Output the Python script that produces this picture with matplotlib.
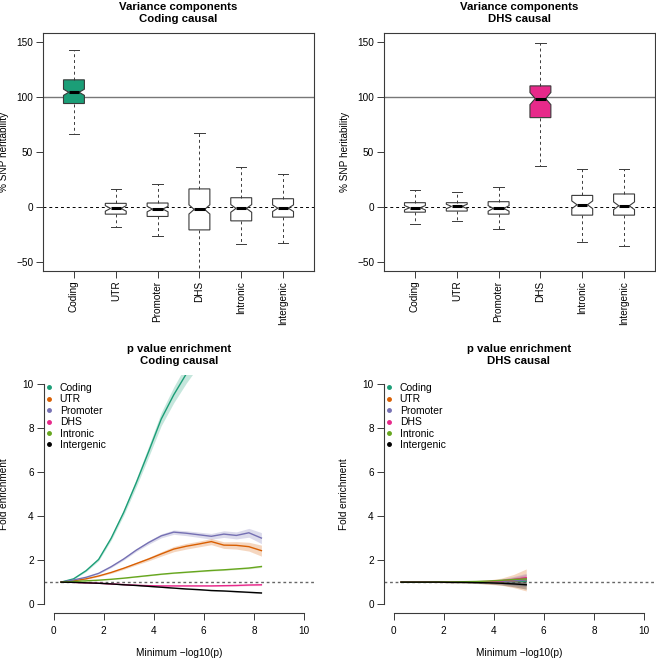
import matplotlib
matplotlib.use("Agg")
import matplotlib.pyplot as plt
from matplotlib.lines import Line2D

plt.rcParams["font.family"] = ["Liberation Sans", "DejaVu Sans"]

categories = ["Coding", "UTR", "Promoter", "DHS", "Intronic", "Intergenic"]
colors = ["#1B9E77", "#D95F02", "#7570B3", "#E7298A", "#66A61E", "#000000"]

# box stats: whisker low, q1, median, q3, whisker high, notch half-width
coding_causal_whislo = [66, -17.7, -26, -70, -33.8, -32.3]
coding_causal_q1 = [94, -6.4, -8.5, -20.7, -12.5, -9.1]
coding_causal_med = [104.2, -1.2, -1.8, -2.1, -1.2, -1.0]
coding_causal_q3 = [115.5, 3.4, 3.7, 16.5, 8.5, 7.6]
coding_causal_whishi = [143, 16.5, 21.3, 66.8, 36.3, 30.2]
coding_causal_notch = [2.8, 2.5, 2.5, 4.2, 3.5, 3.0]

dhs_causal_whislo = [-15.5, -12.5, -20, 37.7, -31.6, -35.3]
dhs_causal_q1 = [-4.6, -3.6, -6.4, 81.2, -7.3, -7.3]
dhs_causal_med = [-0.6, 0.6, -1.2, 98.5, 2.1, 1.2]
dhs_causal_q3 = [4.0, 4.0, 4.9, 110, 10.6, 11.9]
dhs_causal_whishi = [15.2, 13.4, 18.2, 148.6, 34.7, 34.7]
dhs_causal_notch = [2.0, 2.0, 2.5, 5.5, 3.5, 3.5]

# p value enrichment curves (mean, band half-width)
x_coding_causal = [0.3, 0.8, 1.3, 1.8, 2.3, 2.8, 3.3, 3.8, 4.3, 4.8, 5.3,
                   5.8, 6.3, 6.8, 7.3, 7.8, 8.3]
cc_mean = {
    "Coding": [1.0, 1.15, 1.52, 2.03, 2.99, 4.16, 5.5, 6.93, 8.4, 9.5, 10.45,
               11.3, 12.0, 12.6, 13.1, 13.5, 13.8],
    "UTR": [1.0, 1.06, 1.15, 1.28, 1.44, 1.63, 1.84, 2.05, 2.28, 2.5, 2.63,
            2.73, 2.84, 2.68, 2.67, 2.61, 2.43],
    "Promoter": [1.0, 1.1, 1.22, 1.4, 1.7, 2.05, 2.45, 2.8, 3.1, 3.27, 3.22,
                 3.15, 3.08, 3.18, 3.12, 3.24, 3.0],
    "DHS": [1.0, 0.99, 0.97, 0.95, 0.92, 0.89, 0.86, 0.84, 0.83, 0.83, 0.83,
            0.83, 0.83, 0.84, 0.85, 0.87, 0.88],
    "Intronic": [1.0, 1.03, 1.06, 1.09, 1.13, 1.18, 1.24, 1.3, 1.36, 1.41, 1.45,
                 1.49, 1.53, 1.56, 1.6, 1.64, 1.71],
    "Intergenic": [1.0, 0.99, 0.97, 0.95, 0.92, 0.88, 0.85, 0.81, 0.77, 0.73, 0.69,
                   0.66, 0.62, 0.6, 0.57, 0.54, 0.51],
}
cc_band = {
    "Coding": [0.0, 0.02, 0.04, 0.06, 0.09, 0.13, 0.18, 0.24, 0.3, 0.36, 0.42,
               0.48, 0.54, 0.6, 0.65, 0.7, 0.75],
    "UTR": [0.0, 0.01, 0.02, 0.03, 0.04, 0.05, 0.06, 0.08, 0.1, 0.12, 0.13,
            0.13, 0.14, 0.15, 0.17, 0.2, 0.25],
    "Promoter": [0.0, 0.01, 0.02, 0.03, 0.04, 0.05, 0.06, 0.08, 0.09, 0.1, 0.11,
                 0.12, 0.13, 0.15, 0.16, 0.2, 0.25],
    "DHS": [0.0, 0.005, 0.01, 0.01, 0.01, 0.01, 0.015, 0.015, 0.02, 0.02, 0.02,
            0.02, 0.025, 0.025, 0.03, 0.03, 0.035],
    "Intronic": [0.0, 0.005, 0.01, 0.01, 0.01, 0.015, 0.015, 0.02, 0.02, 0.02, 0.025,
                 0.025, 0.03, 0.03, 0.03, 0.035, 0.04],
    "Intergenic": [0.0, 0.005, 0.01, 0.01, 0.01, 0.01, 0.01, 0.015, 0.015, 0.015, 0.02,
                   0.02, 0.02, 0.02, 0.025, 0.025, 0.03],
}

x_dhs_causal = [0.3, 0.8, 1.3, 1.8, 2.3, 2.8, 3.3, 3.8, 4.3, 4.8, 5.3]
dc_mean = {
    "Coding": [1.0, 1.0, 1.0, 1.0, 1.0, 1.0, 1.0, 1.01, 1.02, 1.03, 1.05],
    "UTR": [1.0, 1.0, 1.0, 1.0, 1.0, 1.0, 1.0, 1.0, 1.02, 1.05, 1.1],
    "Promoter": [1.0, 1.0, 1.0, 1.0, 1.0, 1.0, 1.0, 1.01, 1.03, 1.06, 1.1],
    "DHS": [1.0, 1.0, 1.0, 1.0, 1.0, 1.01, 1.02, 1.03, 1.06, 1.12, 1.2],
    "Intronic": [1.0, 1.0, 1.0, 1.01, 1.01, 1.02, 1.03, 1.05, 1.08, 1.12, 1.15],
    "Intergenic": [1.0, 1.0, 1.0, 1.0, 0.99, 0.99, 0.98, 0.97, 0.95, 0.92, 0.88],
}
dc_band = {
    "Coding": [0.0, 0.005, 0.01, 0.01, 0.02, 0.03, 0.04, 0.06, 0.09, 0.14, 0.2],
    "UTR": [0.0, 0.01, 0.01, 0.02, 0.03, 0.04, 0.06, 0.1, 0.16, 0.3, 0.5],
    "Promoter": [0.0, 0.005, 0.01, 0.02, 0.02, 0.03, 0.05, 0.07, 0.11, 0.2, 0.3],
    "DHS": [0.0, 0.005, 0.01, 0.01, 0.02, 0.02, 0.03, 0.05, 0.07, 0.1, 0.15],
    "Intronic": [0.0, 0.005, 0.005, 0.01, 0.01, 0.02, 0.02, 0.03, 0.05, 0.07, 0.1],
    "Intergenic": [0.0, 0.005, 0.01, 0.01, 0.02, 0.02, 0.03, 0.05, 0.08, 0.13, 0.2],
}

FRAME = "#3a3a3a"
FS = 7.2
TITLE_FS = 8.2


def style_ticks(ax):
    ax.tick_params(direction="out", length=5, width=0.7, color=FRAME,
                   labelsize=FS, pad=2)


def box_panel(ax, title, whislo, q1, med, q3, whishi, notch, causal):
    stats = []
    for i, name in enumerate(categories):
        stats.append(dict(label=name, whislo=whislo[i], q1=q1[i], med=med[i],
                          q3=q3[i], whishi=whishi[i],
                          cilo=med[i] - notch[i], cihi=med[i] + notch[i]))
    ax.axhline(100, color="#777777", lw=1.0, zorder=1)
    ax.axhline(0, color="black", lw=0.7, ls=(0, (3, 3)), zorder=1)
    parts = ax.bxp(stats, positions=range(1, 7), widths=0.5, shownotches=True,
                   patch_artist=True, showfliers=False, capwidths=0.25,
                   boxprops=dict(lw=0.8, edgecolor=FRAME),
                   whiskerprops=dict(lw=0.7, color=FRAME, ls=(0, (3, 3))),
                   capprops=dict(lw=0.7, color=FRAME),
                   medianprops=dict(color="black", lw=2.2))
    for i, patch in enumerate(parts["boxes"]):
        patch.set_facecolor(colors[i] if i == causal else "white")
        patch.set_zorder(2)
    ax.set_xlim(0.26, 6.74)
    ax.set_ylim(-58, 158)
    ax.set_yticks([-50, 0, 50, 100, 150])
    ax.set_xticks(range(1, 7))
    ax.set_xticklabels(categories, rotation=90, fontsize=FS)
    for s in ax.spines.values():
        s.set_color(FRAME)
        s.set_linewidth(0.8)
    style_ticks(ax)
    ax.set_ylabel("% SNP heritability", fontsize=FS)
    ax.yaxis.set_label_coords(-0.127, 0.5)
    ax.set_title(title, fontsize=TITLE_FS, fontweight="bold", pad=8, linespacing=1.2)


def curve_panel(ax, title, xs, means, bands):
    ax.axhline(1, color="#666666", lw=1.0, ls=(0, (2, 2)), zorder=1)
    for name, c in zip(categories, colors):
        m = means[name]
        b = bands[name]
        lo = [v - h for v, h in zip(m, b)]
        hi = [v + h for v, h in zip(m, b)]
        ax.fill_between(xs, lo, hi, color=c, alpha=0.25, lw=0, zorder=2)
    for name, c in zip(categories, colors):
        ax.plot(xs, means[name], color=c, lw=1.0, zorder=3)
    ax.set_xlim(-0.4, 10.4)
    ax.set_ylim(-0.4, 10.4)
    ax.set_xticks([0, 2, 4, 6, 8, 10])
    ax.set_yticks([0, 2, 4, 6, 8, 10])
    ax.spines["top"].set_visible(False)
    ax.spines["right"].set_visible(False)
    for side in ("left", "bottom"):
        ax.spines[side].set_bounds(0, 10)
        ax.spines[side].set_color(FRAME)
        ax.spines[side].set_linewidth(0.8)
    style_ticks(ax)
    ax.tick_params(axis="x", pad=4)
    ax.set_ylabel("Fold enrichment", fontsize=FS)
    ax.yaxis.set_label_coords(-0.127, 0.5)
    ax.set_xlabel("Minimum \u2212log10(p)", fontsize=FS, labelpad=9)
    ax.set_title(title, fontsize=TITLE_FS, fontweight="bold", pad=8, linespacing=1.2)
    handles = [Line2D([], [], ls="", marker="o", ms=2.5, color=c) for c in colors]
    ax.legend(handles, categories, loc="upper left", bbox_to_anchor=(0.006, 0.966),
              frameon=False, fontsize=7.5, handlelength=0.8, handletextpad=0.6,
              labelspacing=0.13, borderaxespad=0, borderpad=0)


fig = plt.figure(figsize=(6.56, 6.58), dpi=100)
W, H = 656.0, 658.0

ax1 = fig.add_axes([43 / W, 1 - 271 / H, 271 / W, 238 / H])
ax2 = fig.add_axes([384 / W, 1 - 271 / H, 271 / W, 238 / H])
ax3 = fig.add_axes([43.5 / W, 1 - 613 / H, 270.5 / W, 238 / H])
ax4 = fig.add_axes([383.5 / W, 1 - 613 / H, 270.5 / W, 238 / H])

box_panel(ax1, "Variance components\nCoding causal", coding_causal_whislo,
          coding_causal_q1, coding_causal_med, coding_causal_q3,
          coding_causal_whishi, coding_causal_notch, 0)
box_panel(ax2, "Variance components\nDHS causal", dhs_causal_whislo,
          dhs_causal_q1, dhs_causal_med, dhs_causal_q3,
          dhs_causal_whishi, dhs_causal_notch, 3)
curve_panel(ax3, "p value enrichment\nCoding causal", x_coding_causal, cc_mean, cc_band)
curve_panel(ax4, "p value enrichment\nDHS causal", x_dhs_causal, dc_mean, dc_band)

fig.savefig("out.png", dpi=100)
